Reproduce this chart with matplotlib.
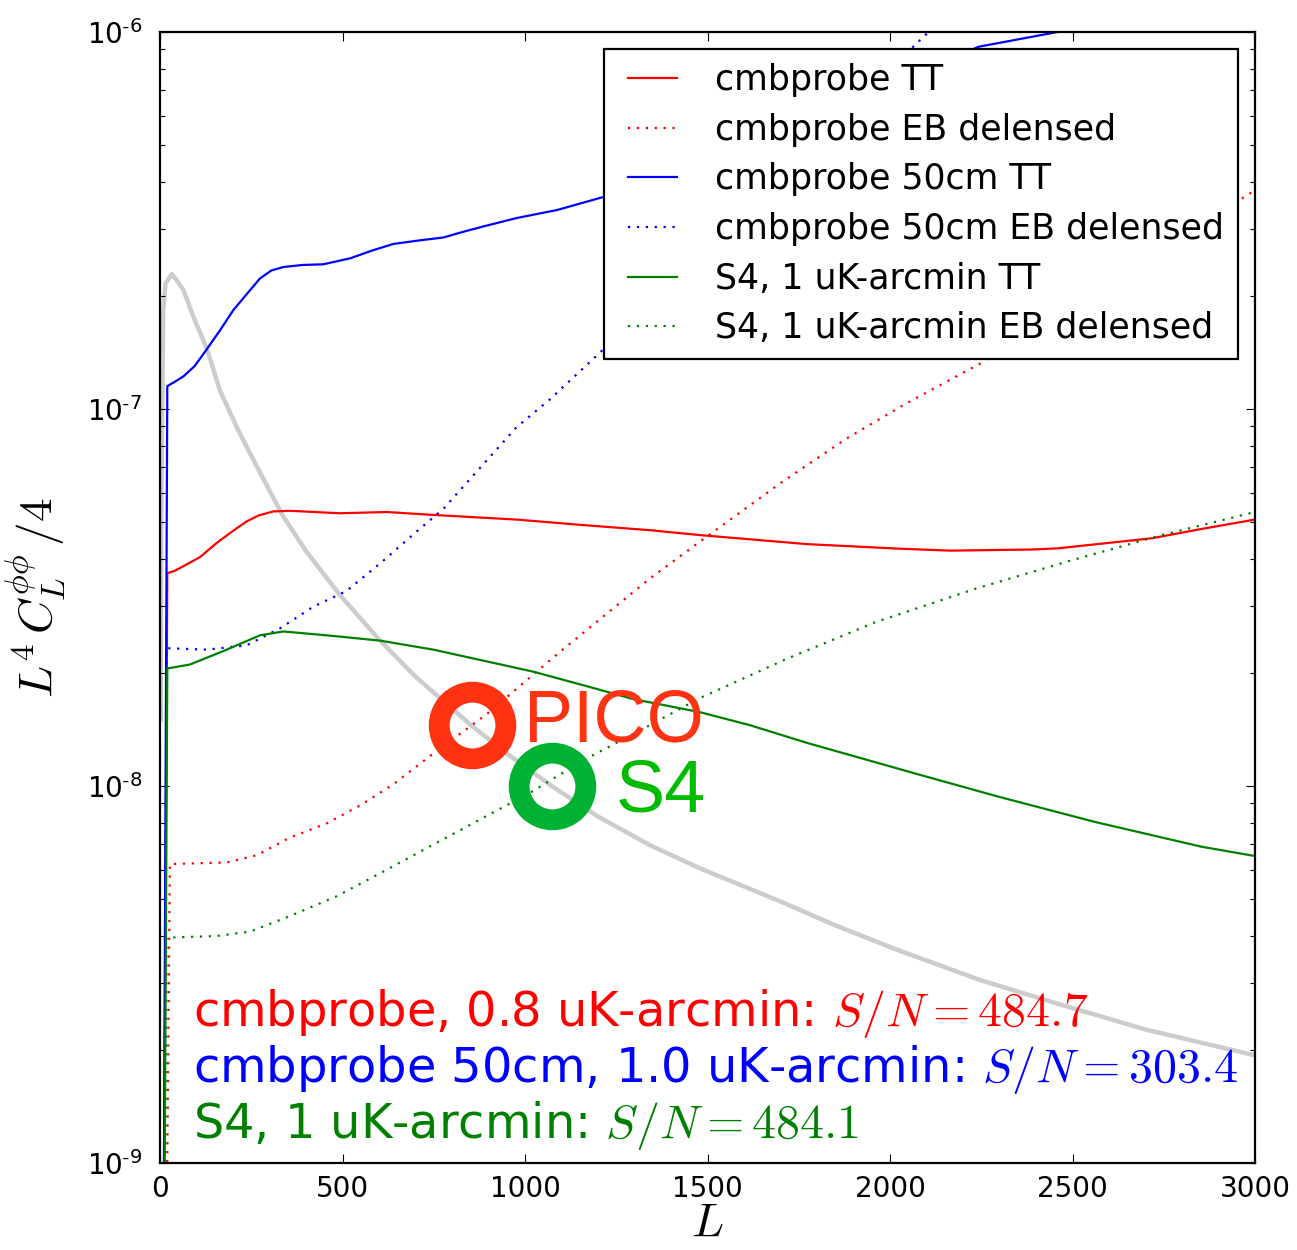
import numpy as np
import matplotlib
matplotlib.use("Agg")
import matplotlib.pyplot as plt
from matplotlib.ticker import FixedLocator, FuncFormatter, LogLocator, NullFormatter

plt.rcParams['mathtext.fontset'] = 'cm'
plt.rcParams['font.family'] = ['DejaVu Sans']
plt.rcParams['lines.scale_dashes'] = True

# ---------------- data ----------------
L_red_tt = [2, 20, 40, 73, 110, 155, 200, 237, 270, 311, 356, 493, 621, 758, 977, 1150, 1342, 1479,
            1774, 2027, 2167, 2392, 2460, 2717, 2850, 3000]
V_red_tt = [2e-11, 3.67e-8, 3.72e-8, 3.87e-8, 4.05e-8, 4.41e-8, 4.75e-8, 5.03e-8, 5.22e-8, 5.35e-8,
            5.37e-8, 5.29e-8, 5.33e-8, 5.23e-8, 5.09e-8, 4.93e-8, 4.77e-8, 4.63e-8,
            4.38e-8, 4.26e-8, 4.21e-8, 4.24e-8, 4.27e-8, 4.54e-8, 4.80e-8, 5.09e-8]

L_red_eb = [2, 27, 183, 265, 356, 457, 548, 639, 749, 895, 977, 1096, 1342, 1489, 1705, 1881, 2041,
            2247, 2500, 2750, 3000]
V_red_eb = [1e-11, 6.21e-9, 6.27e-9, 6.55e-9, 7.3e-9, 7.96e-9, 8.88e-9, 1.01e-8, 1.22e-8, 1.55e-8,
            1.81e-8, 2.27e-8, 3.55e-8, 4.52e-8, 6.41e-8, 8.35e-8, 1.03e-7,
            1.32e-7, 1.9e-7, 2.7e-7, 3.8e-7]

L_blue_tt = [2, 20, 40, 64, 95, 128, 165, 201, 240, 274, 305, 338, 390, 447, 521, 580, 639, 710, 776,
             830, 886, 977, 1087, 1219, 1500, 1800, 2050, 2243, 2459, 2700, 3000]
V_blue_tt = [1e-11, 1.15e-7, 1.18e-7, 1.22e-7, 1.30e-7, 1.44e-7, 1.62e-7, 1.83e-7, 2.03e-7, 2.22e-7,
             2.33e-7, 2.38e-7, 2.41e-7, 2.42e-7, 2.51e-7, 2.63e-7, 2.74e-7, 2.80e-7, 2.85e-7,
             2.95e-7, 3.05e-7, 3.21e-7, 3.37e-7, 3.66e-7, 4.37e-7, 5.75e-7,
             7.6e-7, 9.14e-7, 1.0e-6, 1.07e-6, 1.15e-6]

L_blue_eb = [2, 18, 128, 237, 329, 420, 511, 612, 694, 776, 886, 977, 1068, 1205, 1400, 1700, 2073,
             2500, 3000]
V_blue_eb = [1e-11, 2.32e-8, 2.30e-8, 2.36e-8, 2.62e-8, 2.99e-8, 3.29e-8, 3.96e-8, 4.65e-8, 5.43e-8,
             7.14e-8, 8.95e-8, 1.06e-7, 1.41e-7, 2.14e-7, 4.12e-7, 9.33e-7,
             2.3e-6, 6.0e-6]

L_grn_tt = [2, 20, 82, 183, 274, 338, 475, 603, 749, 886, 1023, 1160, 1297, 1479, 1616, 1774, 2068,
            2295, 2559, 2854, 3000]
V_grn_tt = [1e-11, 2.05e-8, 2.10e-8, 2.30e-8, 2.51e-8, 2.57e-8, 2.50e-8, 2.43e-8, 2.30e-8, 2.15e-8,
            2.01e-8, 1.85e-8, 1.70e-8, 1.57e-8, 1.45e-8, 1.30e-8, 1.08e-8,
            9.38e-9, 8.04e-9, 6.9e-9, 6.52e-9]

L_grn_eb = [2, 18, 155, 247, 356, 484, 612, 740, 877, 1014, 1160, 1342, 1479, 1715, 1960, 2236, 2490,
            2745, 3000]
V_grn_eb = [1e-11, 3.96e-9, 4.0e-9, 4.11e-9, 4.52e-9, 5.1e-9, 5.93e-9, 6.92e-9, 8.15e-9, 9.6e-9,
            1.17e-8, 1.45e-8, 1.71e-8, 2.17e-8, 2.72e-8, 3.34e-8, 3.95e-8,
            4.63e-8, 5.33e-8]

L_theory = [2, 3, 5, 9, 15, 32, 45, 64, 91, 129, 164, 214, 260, 337, 400, 493, 603, 700, 854, 950,
            1073, 1200, 1342, 1479, 1700, 1850, 2022, 2250, 2474, 2700, 3000]
V_theory = [1.5e-8, 4e-8, 7.8e-8, 1.83e-7, 2.15e-7, 2.28e-7, 2.2e-7, 2.07e-7, 1.76e-7, 1.44e-7,
            1.12e-7, 8.8e-8, 7.2e-8, 5.2e-8, 4.2e-8, 3.21e-8, 2.43e-8, 1.95e-8, 1.445e-8, 1.22e-8,
            1.0e-8, 8.3e-9, 6.97e-9, 6.05e-9, 4.94e-9, 4.27e-9, 3.67e-9, 3.05e-9, 2.62e-9,
            2.26e-9, 1.93e-9]

labels = ['cmbprobe TT', 'cmbprobe EB delensed', 'cmbprobe 50cm TT',
          'cmbprobe 50cm EB delensed', 'S4, 1 uK-arcmin TT', 'S4, 1 uK-arcmin EB delensed']

experiments = ['cmbprobe, 0.8 uK-arcmin', 'cmbprobe 50cm, 1.0 uK-arcmin', 'S4, 1 uK-arcmin']
snr = [484.7, 303.4, 484.1]

marker_names = ['PICO', 'S4']
marker_L = [854, 1073]
marker_V = [1.45e-8, 1.0e-8]

xticks = [0, 500, 1000, 1500, 2000, 2500, 3000]
yticks = [1e-9, 1e-8, 1e-7, 1e-6]

# ---------------- figure ----------------
fig = plt.figure(figsize=(12.97, 12.5), dpi=100, facecolor='white')
ax = fig.add_axes([160 / 1297, 87 / 1250, 1095 / 1297, 1131 / 1250])

ax.plot(L_theory, V_theory, color='#cccccc', lw=3.2, zorder=1)

lw = 1.6
dot = (0, (1, 3))
ax.plot(L_red_tt, V_red_tt, color='r', lw=lw, label=labels[0])
ax.plot(L_red_eb, V_red_eb, color='r', lw=lw, ls=dot, label=labels[1])
ax.plot(L_blue_tt, V_blue_tt, color='b', lw=lw, label=labels[2])
ax.plot(L_blue_eb, V_blue_eb, color='b', lw=lw, ls=dot, label=labels[3])
ax.plot(L_grn_tt, V_grn_tt, color='g', lw=lw, label=labels[4])
ax.plot(L_grn_eb, V_grn_eb, color='g', lw=lw, ls=dot, label=labels[5])

ring_colors = ['#ff3311', '#00b233']
text_colors = ['#ff3311', '#00bb00']
for i in range(2):
    ax.plot([marker_L[i]], [marker_V[i]], marker='o', ms=48, mfc='none',
            mec=ring_colors[i], mew=15, ls='none', zorder=5)
offsets = [(38, -12), (46, -18)]
for i in range(2):
    ax.annotate(marker_names[i], xy=(marker_L[i], marker_V[i]), xytext=offsets[i],
                textcoords='offset points', fontsize=53, color=text_colors[i],
                family='Liberation Sans', ha='left', va='baseline', zorder=6)

ax.set_yscale('log')
ax.set_xlim(0, 3000)
ax.set_ylim(1e-9, 1e-6)

ax.xaxis.set_major_locator(FixedLocator(xticks))
ax.yaxis.set_major_locator(FixedLocator(yticks))
ax.yaxis.set_minor_locator(LogLocator(base=10, subs=np.arange(2, 10)))
ax.yaxis.set_minor_formatter(NullFormatter())

def yfmt(v, pos):
    e = int(round(np.log10(v)))
    return r'$\mathdefault{10^{\text{-}%d}}$' % abs(e)
ax.yaxis.set_major_formatter(FuncFormatter(yfmt))

ax.tick_params(which='both', direction='in', top=True, right=True, labelsize=20, width=0.8)
ax.tick_params(which='major', length=6.5)
ax.tick_params(axis='x', which='major', pad=8.5)
ax.tick_params(axis='y', which='major', pad=13)
ax.tick_params(which='minor', length=3.3)
for s in ax.spines.values():
    s.set_linewidth(1.6)

ax.set_xlabel(r'$L$', fontsize=34)
ax.set_ylabel(r'$L^4\,C_L^{\phi\phi}\,/4$', fontsize=34)
ax.xaxis.set_label_coords(0.5, -0.033)
ax.yaxis.set_label_coords(-0.084, 0.5)

leg = ax.legend(loc='upper right', fontsize=25, numpoints=2, fancybox=False, framealpha=1,
                borderpad=0.4, labelspacing=0.45, handlelength=2.0, handletextpad=0.8,
                borderaxespad=0.5)
leg.get_frame().set_edgecolor('black')
leg.get_frame().set_linewidth(1.6)

cols = ['r', 'b', 'g']
ys = [0.121, 0.0715, 0.022]
for i in range(3):
    ax.text(0.030, ys[i], '%s: $S/N=%.1f$' % (experiments[i], snr[i]), transform=ax.transAxes,
            fontsize=34.5, color=cols[i], ha='left', va='baseline')

fig.savefig('out.png', dpi=100, facecolor='white')
